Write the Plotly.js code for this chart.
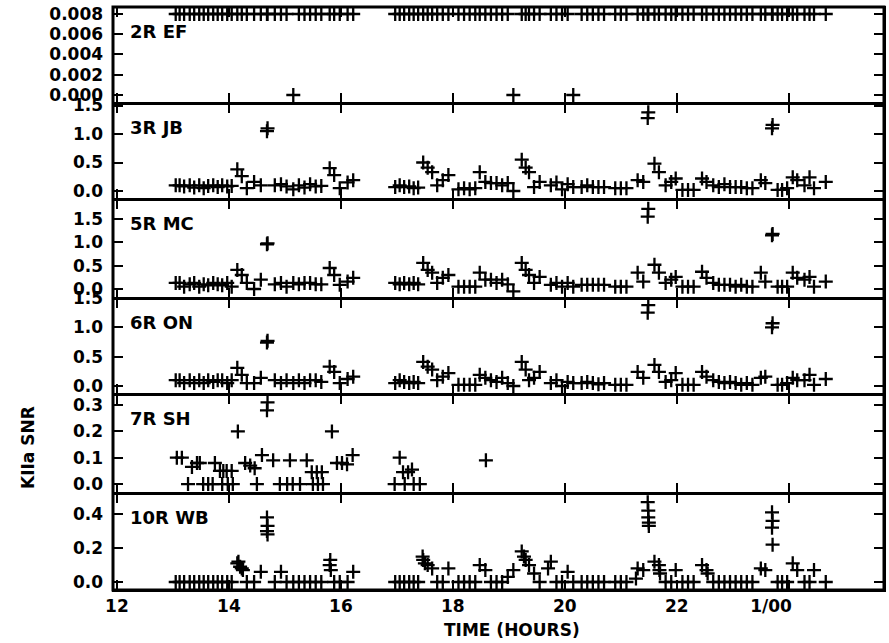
<!DOCTYPE html>
<html>
<head>
<meta charset="utf-8">
<script src="https://cdn.plot.ly/plotly-3.0.1.min.js"></script>
<style>html,body{margin:0;padding:0;background:#fff;}#chart{width:889px;height:643px;}</style>
</head>
<body>
<div id="chart"></div>
<script>
// Shared sample times (hours) for 2R, 3R, 5R, 6R, 10R
var t = [13.05,13.12,13.2,13.3,13.38,13.47,13.55,13.63,13.72,13.8,13.88,13.97,14.05,14.15,14.23,14.32,14.45,14.57,14.68,14.69,14.82,14.93,15.03,15.15,15.25,15.35,15.45,15.55,15.65,15.8,15.88,15.98,16.12,16.22,
  16.97,17.05,17.13,17.22,17.3,17.38,17.47,17.55,17.63,17.72,17.82,17.92,18.1,18.2,18.3,18.4,18.48,18.58,18.68,18.78,18.88,18.98,19.08,19.23,19.3,19.36,19.45,19.55,19.75,19.85,19.95,20.05,20.15,20.3,20.4,20.5,20.6,20.7,20.9,21.0,21.1,21.3,21.4,21.48,21.49,21.6,21.68,21.8,21.9,21.98,22.1,22.2,22.3,22.45,22.53,22.65,22.75,22.85,22.95,23.05,23.15,23.25,23.35,23.5,23.58,23.7,23.71,23.8,23.88,23.97,24.07,24.15,24.28,24.37,24.45,24.66];

var ef = [0.008,0.008,0.008,0.008,0.008,0.008,0.008,0.008,0.008,0.008,0.008,0.008,0.008,0.008,0.008,0.008,0.008,0.008,0.008,0.008,0.008,0.008,0.008,0,0.008,0.008,0.008,0.008,0.008,0.008,0.008,0.008,0.008,0.008,
  0.008,0.008,0.008,0.008,0.008,0.008,0.008,0.008,0.008,0.008,0.008,0.008,0.008,0.008,0.008,0.008,0.008,0.008,0.008,0.008,0.008,0.008,0,0.008,0.008,0.008,0.008,0.008,0.008,0.008,0.008,0.008,0,0.008,0.008,0.008,0.008,0.008,0.008,0.008,0.008,0.008,0.008,0.008,0.008,0.008,0.008,0.008,0.008,0.008,0.008,0.008,0.008,0.008,0.008,0.008,0.008,0.008,0.008,0.008,0.008,0.008,0.008,0.008,0.008,0.008,0.008,0.008,0.008,0.008,0.008,0.008,0.008,0.008,0.008,0.008];

var jb = [0.1,0.1,0.08,0.1,0.06,0.1,0.05,0.09,0.1,0.07,0.1,0.08,0.09,0.38,0.26,0.05,0.16,0.1,1.05,1.1,0.1,0.12,0.08,0.03,0.1,0.06,0.12,0.08,0.09,0.4,0.28,0.05,0.15,0.19,
  0.07,0.1,0.07,0.08,0.05,0.06, 0.5,0.41,0.33,0.1,0.19,0.28, 0.03,0.05,0.03,0.05, 0.33,0.16,0.14,0.14,0.1,0.14,0.0, 0.55,0.41,0.33,0.07,0.16,
  0.1,0.15,0.03,0.12,0.07,0.07,0.1,0.07,0.07,0.07,0.05,0.05,0.05, 0.19,0.16,1.28,1.38,0.48,0.33,0.1,0.16,0.22, 0.02,0.02,0.02,
  0.22,0.16,0.1,0.07,0.12,0.07,0.07,0.07,0.05,0.05, 0.19,0.14,1.1,1.16,0.02,0.02,0.05, 0.24,0.19,0.1,0.24,0.05,0.16];

var mc = [0.13,0.13,0.05,0.1,0.13,0.05,0.1,0.08,0.13,0.1,0.08,0.13,0.05,0.41,0.3,0.13,0.0,0.2,0.96,0.98,0.1,0.13,0.05,0.13,0.1,0.13,0.13,0.1,0.1,0.45,0.3,0.09,0.16,0.24,
  0.13,0.1,0.13,0.1,0.13,0.1, 0.56,0.41,0.35,0.13,0.24,0.3, 0.05,0.05,0.05,0.05, 0.35,0.2,0.2,0.13,0.2,0.1,-0.05, 0.56,0.41,0.3,0.13,0.26,
  0.09,0.13,0.05,0.13,0.05,0.09,0.09,0.09,0.09,0.09,0.05,0.05,0.05, 0.35,0.16,1.55,1.72,0.52,0.35,0.13,0.2,0.26, 0.05,0.05,0.05,
  0.37,0.24,0.13,0.09,0.09,0.09,0.05,0.09,0.05,0.05, 0.35,0.16,1.15,1.18,0.05,0.05,0.05, 0.35,0.24,0.2,0.26,0.05,0.16];

var on = [0.1,0.1,0.05,0.1,0.05,0.1,0.05,0.1,0.07,0.1,0.1,0.05,0.1,0.31,0.19,0.05,0.05,0.14,0.74,0.77,0.1,0.05,0.1,0.05,0.1,0.05,0.1,0.1,0.07,0.33,0.24,0.05,0.12,0.16,
  0.05,0.1,0.07,0.05,0.07,0.05, 0.41,0.33,0.28,0.1,0.16,0.22, 0.02,0.02,0.02,0.02, 0.19,0.14,0.1,0.07,0.14,0.05,0.0, 0.41,0.28,0.1,0.14,0.24,
  0.05,0.1,0.0,0.07,0.05,0.05,0.07,0.05,0.03,0.05,0.02,0.02,0.02, 0.24,0.14,1.25,1.38,0.36,0.24,0.07,0.1,0.22, 0.02,0.02,0.02,
  0.24,0.16,0.1,0.07,0.05,0.07,0.05,0.02,0.05,0.02, 0.14,0.16,1.0,1.07,0.02,0.02,0.05, 0.14,0.1,0.1,0.19,0.02,0.12];

var wb = [0,0,0,0,0,0,0,0,0,0,0,0,0,0.11,0.08,0,0,0.06,0.3,0.33,0,0.06,0,0,0,0,0,0,0,0.1,0,0,0,0.06,
  0,0,0,0,0,0, 0.13,0.1,0.08,0,0,0.08, 0,0,0,0, 0.1,0.07,0,0,0,0.03,0.07, 0.18,0.13,0.1,0.05,0,
  0.12,0,0,0.06,0,0,0,0,0,0,0,0,0, 0.08,0.07,0.47,0.42,0.12,0.1,0,0,0.07, 0,0,0,
  0.1,0.07,0,0,0,0,0,0,0,0, 0.08,0.07,0.41,0.36,0,0,0, 0.11,0.07,0,0,0.07,0];

var wbExtraT = [14.17,14.2,14.25,14.68,14.69,15.81,15.82,17.46,17.5,19.27,19.7,21.27,21.49,21.5,21.5,21.69,21.7,22.55,23.7,23.71];
var wbExtraV = [0.12,0.09,0.07,0.38,0.28,0.13,0.07,0.15,0.11,0.15,0.08,0.02,0.38,0.35,0.33,0.07,0.05,0.05,0.32,0.22];

// 7R SH has its own sampling
var shT = [13.07,13.16,13.27,13.34,13.43,13.48,13.54,13.63,13.71,13.75,13.84,13.88,13.9,13.96,13.98,14.05,14.07,14.16,14.29,14.38,14.46,14.5,14.59,14.68,14.69,14.79,14.91,15.04,15.09,15.14,15.27,15.39,15.48,15.5,15.57,15.59,15.66,15.68,15.84,15.93,16.02,16.11,16.21,16.96,17.05,17.11,17.14,17.2,17.27,17.3,17.41,18.59];
var shV = [0.1,0.1,0,0.065,0.08,0.08,0,0,0,0.08,0.05,0,0.05,0.05,0,0.05,0,0.2,0.08,0.07,0.06,0,0.11,0.28,0.31,0.09,0,0,0.09,0,0,0.09,0.045,0,0.045,0,0.045,0,0.2,0.08,0.08,0.075,0.11,0,0.1,0.045,0,0.045,0.055,0,0,0.09];

var panelNames = ['2R EF','3R JB','5R MC','6R ON','7R SH','10R WB'];
var xTickVals = [12,14,16,18,20,22,24];
var xTickText = ['12','14','16','18','20','22','1/00\u00a0\u00a0\u00a0\u00a0\u00a0\u00a0'];
var yTickVals = [[0,0.002,0.004,0.006,0.008],[0,0.5,1.0,1.5],[0,0.5,1.0,1.5],[0,0.5,1.0,1.5],[0,0.1,0.2,0.3],[0,0.2,0.4]];
var yTickText = [['0.000','0.002','0.004','0.006','0.008'],['0.0','0.5','1.0','1.5'],['0.0','0.5','1.0','1.5'],['0.0','0.5','1.0','1.5'],['0.0','0.1','0.2','0.3'],['0.0','0.2','0.4']];

// layout geometry
var W = 889, H = 643;
var L = 113, R = 5, T = 7, B = 53;
var plotH = H - T - B;
var edges = [7,103,199,298,394,493,590];
var yRanges = [[-0.00079,0.00869],[-0.14,1.544],[-0.193,1.93],[-0.136,1.5],[-0.034,0.342],[-0.047,0.524]];
var xRange = [11.93,25.7];

function frac(py){ return (H - B - py) / plotH; }

var marker = {symbol:'cross-thin', size:10, color:'black', line:{width:2.3, color:'black'}};
var seriesT = [t,t,t,t,shT,t];
var seriesV = [ef,jb,mc,on,shV,wb];
var data = [];
for (var i=0;i<6;i++){
  data.push({x:seriesT[i], y:seriesV[i], type:'scatter', mode:'markers', marker:marker,
    xaxis:'x'+(i+1), yaxis:'y'+(i+1), showlegend:false, hoverinfo:'skip', cliponaxis:false});
}
data.push({x:wbExtraT, y:wbExtraV, type:'scatter', mode:'markers', marker:marker,
  xaxis:'x6', yaxis:'y6', showlegend:false, hoverinfo:'skip', cliponaxis:false});

var fontTick = {family:'DejaVu Sans', size:17, color:'black', weight:'bold'};
var fontLabel = {family:'DejaVu Sans', size:18, color:'black', weight:'bold'};
var layout = {
  width:W, height:H,
  margin:{l:L, r:R, t:T, b:B, pad:0},
  paper_bgcolor:'white', plot_bgcolor:'white',
  font:fontTick,
  showlegend:false,
  annotations:[],
  shapes:[{type:'rect', xref:'paper', yref:'paper', x0:0, x1:1, y0:0, y1:1, line:{color:'black', width:3}, layer:'above'}]
};
for (var i=0;i<6;i++){
  var xa = {
    domain:[0,1], range:xRange, anchor:'y'+(i+1),
    tickmode:'array', tickvals:xTickVals, ticktext:xTickText,
    ticks:'inside', ticklen:10, tickwidth:2, tickcolor:'black',
    showline:true, linewidth:1.5, linecolor:'black', mirror:'ticks',
    showgrid:false, zeroline:false, showticklabels:(i===5),
    tickfont:fontTick
  };
  if (i>0) xa.matches = 'x';
  var ya = {
    domain:[frac(edges[i+1]), frac(edges[i])], range:yRanges[i], anchor:'x'+(i+1),
    tickmode:'array', tickvals:yTickVals[i], ticktext:yTickText[i],
    ticks:'inside', ticklen:10, tickwidth:2, tickcolor:'black',
    showline:true, linewidth:1.5, linecolor:'black', mirror:'ticks',
    showgrid:false, zeroline:false, tickfont:fontTick, ticklabelstandoff:5
  };
  layout['xaxis'+(i===0?'':(i+1))] = xa;
  layout['yaxis'+(i===0?'':(i+1))] = ya;
  layout.annotations.push({
    text:panelNames[i], xref:'paper', yref:'paper', x:(128-L)/(W-L-R), y:frac(edges[i]+24),
    xanchor:'left', yanchor:'middle', showarrow:false, font:fontLabel
  });
}
layout.annotations.push({text:'KIIa SNR', xref:'paper', yref:'paper', x:(28-L)/(W-L-R), y:frac(448),
  xanchor:'center', yanchor:'middle', showarrow:false, textangle:-90, font:fontTick});
layout.annotations.push({text:'TIME (HOURS)', xref:'paper', yref:'paper', x:(512-L)/(W-L-R), y:frac(630),
  xanchor:'center', yanchor:'middle', showarrow:false, font:fontTick});

Plotly.newPlot('chart', data, layout, {staticPlot:true, displayModeBar:false});
</script>
</body>
</html>
